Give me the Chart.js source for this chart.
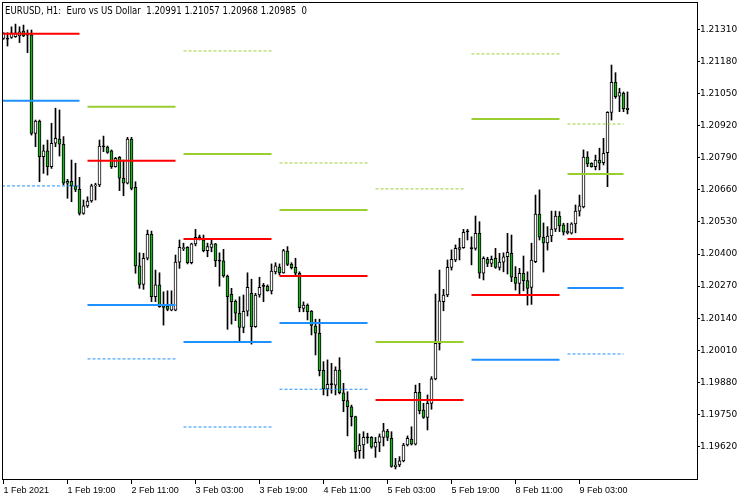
<!DOCTYPE html>
<html><head><meta charset="utf-8">
<script src="https://cdn.jsdelivr.net/npm/chart.js@4.4.0/dist/chart.umd.min.js"></script>
<style>html,body{margin:0;padding:0;background:#fff;overflow:hidden}canvas{display:block}</style>
</head><body>
<canvas id="c" width="750" height="500"></canvas>
<script>
const headerText = "EURUSD, H1:  Euro vs US Dollar  1.20991 1.21057 1.20968 1.20985  0";
const xTickLabels = ["1 Feb 2021","1 Feb 19:00","2 Feb 11:00","3 Feb 03:00","3 Feb 19:00","4 Feb 11:00","5 Feb 03:00","5 Feb 19:00","8 Feb 11:00","9 Feb 03:00"];
const xTickBars = [0,16,32,48,64,80,96,112,128,144];
const yTicks = [1.21310,1.21180,1.21050,1.20920,1.20790,1.20660,1.20530,1.20400,1.20270,1.20140,1.20010,1.19880,1.19750,1.19620];

const opens = [1.21274,1.21272,1.21278,1.21281,1.21284,1.21304,1.21288,1.21288,1.20889,1.20939,
1.20795,1.20818,1.20754,1.20849,1.20866,1.20845,1.20687,1.20695,1.20676,1.20662,
1.20565,1.20595,1.20615,1.20676,1.20680,1.20838,1.20833,1.20818,1.20754,1.20792,
1.20707,1.20687,1.20866,1.20670,1.20352,1.20277,1.20383,1.20480,1.20227,1.20275,
1.20189,1.20189,1.20173,1.20173,1.20367,1.20422,1.20427,1.20365,1.20441,1.20468,
1.20457,1.20414,1.20427,1.20441,1.20373,1.20372,1.20311,1.20237,1.20208,1.20160,
1.20103,1.20168,1.20241,1.20106,1.20234,1.20270,1.20270,1.20251,1.20328,1.20347,
1.20324,1.20412,1.20358,1.20346,1.20322,1.20180,1.20193,1.20169,1.20108,1.20079,
1.19929,1.19853,1.19872,1.19869,1.19930,1.19838,1.19806,1.19781,1.19741,1.19603,
1.19626,1.19657,1.19657,1.19617,1.19637,1.19657,1.19683,1.19653,1.19538,1.19545,
1.19562,1.19626,1.19650,1.19629,1.19840,1.19768,1.19738,1.19795,1.19894,1.20038,
1.20207,1.20234,1.20346,1.20376,1.20419,1.20426,1.20491,1.20423,1.20423,1.20484,
1.20322,1.20379,1.20362,1.20383,1.20346,1.20367,1.20389,1.20403,1.20306,1.20281,
1.20322,1.20292,1.20265,1.20369,1.20562,1.20468,1.20445,1.20473,1.20501,1.20554,
1.20518,1.20486,1.20485,1.20522,1.20574,1.20591,1.20793,1.20768,1.20754,1.20781,
1.20770,1.20811,1.20974,1.21096,1.21040,1.21051,1.20991];
const highs = [1.21297,1.21297,1.21321,1.21332,1.21321,1.21328,1.21308,1.21308,1.20943,1.20943,
1.20842,1.20862,1.20930,1.20991,1.20984,1.20876,1.20703,1.20781,1.20768,1.20711,
1.20619,1.20632,1.20683,1.20687,1.20862,1.20878,1.20838,1.20822,1.20792,1.20795,
1.20781,1.20873,1.20873,1.20693,1.20405,1.20403,1.20497,1.20493,1.20335,1.20324,
1.20247,1.20251,1.20251,1.20396,1.20457,1.20444,1.20430,1.20444,1.20500,1.20477,
1.20477,1.20444,1.20457,1.20443,1.20405,1.20419,1.20315,1.20261,1.20214,1.20227,
1.20234,1.20324,1.20298,1.20241,1.20306,1.20281,1.20275,1.20360,1.20365,1.20360,
1.20419,1.20430,1.20365,1.20383,1.20328,1.20206,1.20198,1.20171,1.20136,1.20136,
1.19964,1.19971,1.19957,1.19943,1.19980,1.19876,1.19842,1.19788,1.19743,1.19671,
1.19680,1.19674,1.19660,1.19657,1.19671,1.19714,1.19690,1.19680,1.19572,1.19579,
1.19633,1.19663,1.19700,1.19869,1.19876,1.19795,1.19829,1.19903,1.20238,1.20335,
1.20257,1.20376,1.20417,1.20437,1.20464,1.20500,1.20500,1.20470,1.20554,1.20531,
1.20389,1.20387,1.20392,1.20423,1.20403,1.20405,1.20484,1.20477,1.20349,1.20342,
1.20392,1.20328,1.20444,1.20639,1.20660,1.20526,1.20511,1.20574,1.20574,1.20572,
1.20525,1.20525,1.20527,1.20599,1.20639,1.20822,1.20815,1.20770,1.20801,1.20829,
1.20869,1.20977,1.21166,1.21135,1.21072,1.21057,1.21057];
const lows = [1.21270,1.21243,1.21274,1.21278,1.21257,1.21281,1.21216,1.20882,1.20835,1.20693,
1.20727,1.20720,1.20747,1.20835,1.20797,1.20680,1.20626,1.20612,1.20653,1.20558,
1.20561,1.20589,1.20610,1.20619,1.20673,1.20815,1.20808,1.20747,1.20752,1.20657,
1.20636,1.20684,1.20660,1.20322,1.20261,1.20257,1.20376,1.20207,1.20207,1.20184,
1.20112,1.20170,1.20170,1.20170,1.20342,1.20414,1.20360,1.20360,1.20433,1.20457,
1.20409,1.20389,1.20409,1.20349,1.20270,1.20306,1.20095,1.20116,1.20130,1.20049,
1.20081,1.20149,1.20035,1.20103,1.20225,1.20207,1.20250,1.20238,1.20319,1.20315,
1.20322,1.20353,1.20339,1.20315,1.20166,1.20166,1.20133,1.20072,1.19991,1.19906,
1.19829,1.19825,1.19836,1.19829,1.19833,1.19761,1.19663,1.19703,1.19572,1.19572,
1.19572,1.19633,1.19613,1.19576,1.19599,1.19622,1.19644,1.19536,1.19529,1.19538,
1.19558,1.19622,1.19626,1.19626,1.19752,1.19734,1.19687,1.19771,1.19890,1.20011,
1.20170,1.20227,1.20335,1.20369,1.20376,1.20423,1.20457,1.20356,1.20416,1.20302,
1.20295,1.20349,1.20349,1.20342,1.20335,1.20328,1.20319,1.20288,1.20254,1.20234,
1.20251,1.20193,1.20196,1.20365,1.20457,1.20327,1.20416,1.20450,1.20491,1.20491,
1.20477,1.20481,1.20481,1.20486,1.20554,1.20587,1.20754,1.20752,1.20741,1.20741,
1.20761,1.20673,1.20943,1.21031,1.20977,1.20977,1.20968];
const closes = [1.21295,1.21271,1.21297,1.21297,1.21301,1.21284,1.21287,1.20889,1.20939,1.20795,
1.20818,1.20754,1.20849,1.20869,1.20845,1.20687,1.20695,1.20676,1.20662,1.20565,
1.20595,1.20615,1.20676,1.20680,1.20838,1.20835,1.20812,1.20754,1.20788,1.20707,
1.20687,1.20866,1.20666,1.20352,1.20277,1.20383,1.20480,1.20227,1.20275,1.20187,
1.20184,1.20176,1.20193,1.20367,1.20427,1.20426,1.20365,1.20441,1.20468,1.20466,
1.20414,1.20430,1.20441,1.20373,1.20371,1.20311,1.20227,1.20207,1.20160,1.20103,
1.20168,1.20265,1.20106,1.20234,1.20265,1.20269,1.20251,1.20331,1.20352,1.20324,
1.20414,1.20358,1.20345,1.20322,1.20183,1.20193,1.20166,1.20111,1.20079,1.19927,
1.19853,1.19872,1.19871,1.19930,1.19838,1.19806,1.19781,1.19741,1.19599,1.19626,
1.19657,1.19655,1.19617,1.19637,1.19660,1.19684,1.19657,1.19539,1.19545,1.19562,
1.19626,1.19653,1.19629,1.19840,1.19765,1.19738,1.19795,1.19894,1.20038,1.20210,
1.20234,1.20346,1.20379,1.20423,1.20426,1.20488,1.20490,1.20422,1.20484,1.20322,
1.20383,1.20362,1.20379,1.20346,1.20367,1.20389,1.20407,1.20306,1.20281,1.20322,
1.20292,1.20261,1.20376,1.20562,1.20468,1.20445,1.20473,1.20501,1.20554,1.20514,
1.20489,1.20493,1.20522,1.20574,1.20595,1.20793,1.20765,1.20754,1.20781,1.20768,
1.20808,1.20974,1.21096,1.21038,1.21054,1.20989,1.20985];

// daily level segments (bar index ranges) and their values
const segStart = [-0.375,21,45,69,93,117,141];
const segEnd   = [19,43,67,91,115,139,155];
const pivotRed    = [1.21293,1.20778,1.20461,1.20311,1.19808,1.20234,1.20461];
const r1Green     = [null,1.20997,1.20805,1.20578,1.20044,1.20947,1.20724];
const r2GreenDash = [null,null,1.21223,1.20769,1.20664,1.21211,1.20927];
const s1Blue      = [1.21021,1.20193,1.20044,1.20121,null,1.19972,1.20262];
const s2BlueDash  = [1.20676,1.19975,1.19699,1.19852,null,null,1.19995];

const GREEN_BODY = '#1DB01D';
const wickData = opens.map((o,i)=>({x:i, y:[lows[i], highs[i]]}));
const bodyData = opens.map((o,i)=>({x:i, y:[o, closes[i]]}));
function levelData(vals){
  const out = [];
  vals.forEach((v,k)=>{ if (v==null) return;
    out.push({x:segStart[k], y:v},{x:segEnd[k], y:v},{x:segEnd[k]+0.5, y:null}); });
  return out;
}
function lineDs(vals, color, dashed){
  return {type:'line', data:levelData(vals), borderColor:color, borderWidth:dashed?1:2,
    borderDash:dashed?[3,2]:[], pointRadius:0, fill:false, spanGaps:false, tension:0, order:0};
}

const chromePlugin = {
  id:'chrome',
  afterDraw(chart){
    const {ctx, chartArea:a} = chart;
    ctx.save();
    ctx.strokeStyle = '#000'; ctx.lineWidth = 1;
    ctx.strokeRect(a.left+0.5, a.top+0.5, a.right-a.left, a.bottom-a.top);
    ctx.fillStyle = '#000';
    ctx.font = '10px "DejaVu Sans"';
    ctx.textBaseline = 'alphabetic';
    ctx.textAlign = 'left';
    ctx.fillText(headerText, 5, 13.5, 302);
    ctx.restore();
  }
};

new Chart(document.getElementById('c'), {
  type:'bar',
  data:{ datasets:[
    lineDs(pivotRed,'#FF0000',false),
    lineDs(r1Green,'#9ACD32',false),
    lineDs(s1Blue,'#1E90FF',false),
    lineDs(r2GreenDash,'#9ACD32',true),
    lineDs(s2BlueDash,'#1E90FF',true),
    {type:'bar', data:bodyData, barThickness:3, grouped:false, order:1,
      borderColor:'#000', borderWidth:1, borderSkipped:false, minBarLength:1,
      backgroundColor:(ctx)=>{ const i=ctx.dataIndex; const d=closes[i]-opens[i];
        if (Math.abs(d) < 0.000035) return '#000'; return d>0 ? '#FFFFFF' : GREEN_BODY; }},
    {type:'bar', data:wickData, barThickness:1, grouped:false, order:2,
      backgroundColor:'#000', borderWidth:0}
  ]},
  options:{
    responsive:false, devicePixelRatio:1, animation:false, events:[],
    layout:{padding:{left:2, top:2, right:0, bottom:0}},
    plugins:{legend:{display:false}, tooltip:{enabled:false}, title:{display:false}},
    scales:{
      x:{type:'linear', position:'bottom', min:-0.375, max:173.375, offset:false,
        grid:{display:true, offset:false, drawOnChartArea:false, drawTicks:true, tickLength:5, color:'#000'},
        border:{display:false},
        afterBuildTicks(s){ s.ticks = xTickBars.map(v=>({value:v})); },
        afterFit(s){ s.height = 21; s.paddingLeft = 0; s.paddingRight = 0; },
        ticks:{align:'start', maxRotation:0, minRotation:0, autoSkip:false, padding:1, color:'#000',
          font:{family:'Liberation Sans', size:9},
          callback:(v,i)=>xTickLabels[i]}
      },
      y:{type:'linear', position:'right', min:1.1948832, max:1.2142145, beginAtZero:false,
        grid:{display:true, drawOnChartArea:false, drawTicks:true, tickLength:3, color:'#000'},
        border:{display:false},
        afterBuildTicks(s){ s.ticks = yTicks.map(v=>({value:v})); },
        afterFit(s){ s.width = 53; s.paddingTop = 0; s.paddingBottom = 0; },
        ticks:{autoSkip:false, padding:0, color:'#000', font:{family:'DejaVu Sans', size:9},
          callback:(v)=>Number(v).toFixed(5)}
      }
    }
  },
  plugins:[chromePlugin]
});
</script>
</body></html>
